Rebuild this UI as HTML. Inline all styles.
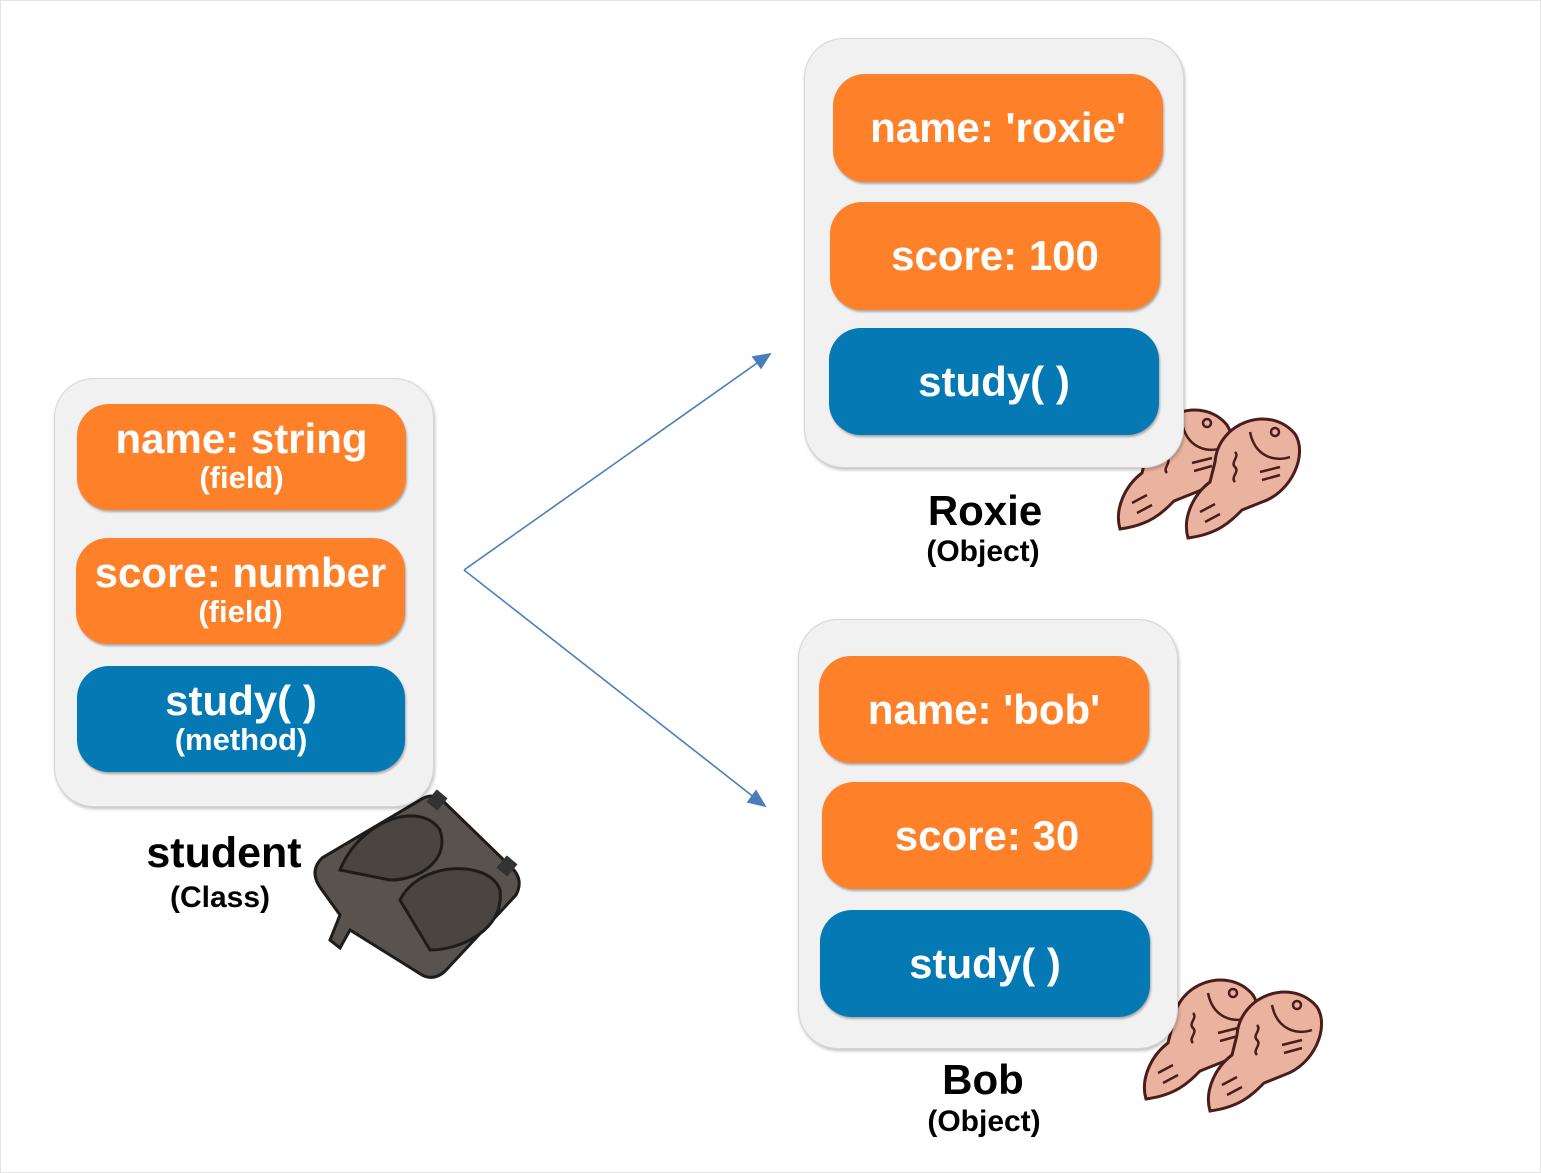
<!DOCTYPE html>
<html><head><meta charset="utf-8"><style>
html,body{margin:0;padding:0;background:#fff}
body{width:1541px;height:1173px;position:relative;overflow:hidden;font-family:"Liberation Sans","DejaVu Sans",sans-serif;font-weight:bold}
.frame{position:absolute;left:0;top:0;width:1539px;height:1171px;border:1px solid #e4e4e4}
.cont{position:absolute;background:#f1f1f1;border:1px solid #d6d6d6;border-radius:40px;box-shadow:1px 2px 3px rgba(0,0,0,.25)}
.box{position:absolute;border-radius:32px;color:#fff;text-align:center;display:flex;flex-direction:column;justify-content:center;align-items:center;box-shadow:1px 2px 2px rgba(0,0,0,.3)}
.o{background:#fe812a}.b{background:#0479b3}
.big{font-size:42px;line-height:42px}
.sm{font-size:31px;line-height:36px}
.lbl{position:absolute;text-align:center;color:#000}
svg{position:absolute;left:0;top:0}
</style></head><body>
<div class="frame"></div>
<svg width="1541" height="1173">
<defs>
<g id="fish">
<path d="M35,60 C38,20 90,2 115,32 C128,52 112,90 82,100 L62,108 C50,120 38,132 8,136 C2,115 14,92 30,80 Z" fill="#eab3a0" stroke="#4a1d1a" stroke-width="3"/>
<circle cx="95" cy="30" r="4" fill="none" stroke="#4a1d1a" stroke-width="2.5"/>
<path d="M70,30 C75,55 95,60 110,55 M55,50 c5,5 -5,10 0,15 c5,5 -5,10 0,15 M80,70 l20,-5 M82,78 l18,-5 M20,110 l15,-8 M25,120 l15,-8" fill="none" stroke="#4a1d1a" stroke-width="2.5"/>
</g>
</defs>
<g>
<path d="M420,800 Q432,792 442,800 L512,868 Q524,880 516,895 L448,968 Q436,982 422,975 L350,930 L340,948 L330,940 L340,915 L322,890 Q308,872 322,858 Z" fill="#59534f" stroke="#1e1c1b" stroke-width="3"/>
<rect x="430" y="792" width="14" height="16" fill="#333" transform="rotate(40 437 800)"/>
<rect x="500" y="858" width="14" height="16" fill="#333" transform="rotate(40 507 866)"/>
<path d="M340,870 C360,820 420,800 440,830 C450,860 420,880 390,880 Z M400,900 C420,860 490,860 500,890 C505,930 460,950 430,950 Z" fill="#4a4541" stroke="#1e1c1b" stroke-width="3"/>
</g>
<g stroke="#4a7ebb" stroke-width="1.6" fill="#4a7ebb">
<line x1="464" y1="570" x2="760" y2="361"/>
<polygon points="770,354 753,357 761,368"/>
<line x1="464" y1="570" x2="755" y2="798"/>
<polygon points="765,806 756,791 748,802"/>
</g>
<use href="#fish" transform="translate(1112,393)"/>
<use href="#fish" transform="translate(1180,402)"/>
<use href="#fish" transform="translate(1138,963)"/>
<use href="#fish" transform="translate(1202,975)"/>
</svg>

<div class="cont" style="left:54px;top:378px;width:378px;height:427px"></div>
<div class="box o" style="left:77px;top:404px;width:329px;height:106px"><div class="big">name: string</div><div class="sm">(field)</div></div>
<div class="box o" style="left:76px;top:538px;width:329px;height:106px"><div class="big">score: number</div><div class="sm">(field)</div></div>
<div class="box b" style="left:77px;top:666px;width:328px;height:106px"><div class="big">study( )</div><div class="sm">(method)</div></div>
<div class="lbl" style="left:124px;top:829px;width:200px;font-size:43px;line-height:48px">student</div>
<div class="lbl" style="left:120px;top:880px;width:200px;font-size:30px;line-height:36px">(Class)</div>

<div class="cont" style="left:804px;top:38px;width:378px;height:428px"></div>
<div class="box o big" style="left:833px;top:74px;width:330px;height:108px">name: 'roxie'</div>
<div class="box o big" style="left:830px;top:202px;width:330px;height:108px">score: 100</div>
<div class="box b big" style="left:829px;top:328px;width:330px;height:107px">study( )</div>
<div class="lbl" style="left:885px;top:487px;width:200px;font-size:42px;line-height:48px">Roxie</div>
<div class="lbl" style="left:883px;top:534px;width:200px;font-size:30px;line-height:36px">(Object)</div>

<div class="cont" style="left:798px;top:619px;width:378px;height:428px"></div>
<div class="box o big" style="left:819px;top:656px;width:330px;height:107px">name: 'bob'</div>
<div class="box o big" style="left:822px;top:782px;width:330px;height:107px">score: 30</div>
<div class="box b big" style="left:820px;top:910px;width:330px;height:107px">study( )</div>
<div class="lbl" style="left:883px;top:1056px;width:200px;font-size:42px;line-height:48px">Bob</div>
<div class="lbl" style="left:884px;top:1104px;width:200px;font-size:30px;line-height:36px">(Object)</div>
</body></html>
